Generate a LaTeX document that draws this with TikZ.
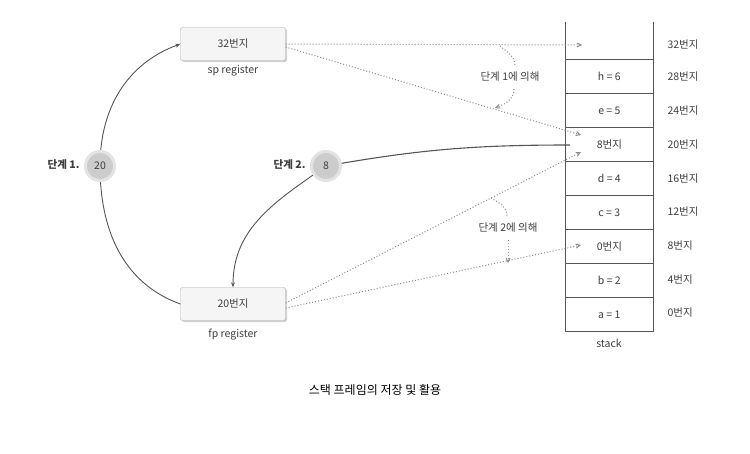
\documentclass[tikz,border=0pt]{standalone}
\usepackage{fontspec}
\setmainfont{Noto Sans CJK KR}
\usetikzlibrary{arrows.meta,shadows}
\definecolor{txt}{HTML}{3E3E3E}
\definecolor{ln}{HTML}{555555}
\definecolor{dotc}{HTML}{8A8A8A}
\begin{document}
\begin{tikzpicture}[x=1pt,y=-1pt,
  font=\fontsize{10.5}{12}\selectfont, text=txt,
  regbox/.style={draw=gray!70, fill=gray!8, rounded corners=2pt, minimum width=105pt, minimum height=33pt, drop shadow={opacity=0.35,shadow xshift=1.5pt,shadow yshift=-1.5pt}},
  stepcirc/.style={circle, draw=gray!22, line width=3pt, fill=gray!40, minimum size=29pt, inner sep=0pt},
  cell/.style={draw=ln, line width=0.7pt, minimum width=88pt, minimum height=34pt, inner sep=0pt, anchor=north west},
  solidarr/.style={draw=ln, line width=0.9pt, -{Stealth[length=5pt,width=4pt]}},
  dotarr/.style={draw=dotc, line width=1pt, dotted, -{Straight Barb[length=4pt,width=4pt]}},
  addr/.style={anchor=west}]
\useasboundingbox (0,0) rectangle (750,453);
\fill[white] (0,0) rectangle (750,453);
% stack
\draw[ln, line width=0.7pt] (565,22) -- (565,59);
\draw[ln, line width=0.7pt] (653,22) -- (653,59);
\node[cell] (r28) at (565,59) {h = 6};
\node[cell] (r24) at (565,93) {e = 5};
\node[cell] (r20) at (565,127) {8번지};
\node[cell] (r16) at (565,161) {d = 4};
\node[cell] (r12) at (565,195) {c = 3};
\node[cell] (r8) at (565,229) {0번지};
\node[cell] (r4) at (565,263) {b = 2};
\node[cell] (r0) at (565,297) {a = 1};
\node (stk) at (609,343) {stack};
\coordinate (t32) at (582,45);
\node[addr] (a32) at (664,45) {32번지};
\node[addr] (a28) at (664,77) {28번지};
\node[addr] (a24) at (664,111) {24번지};
\node[addr] (a20) at (664,145) {20번지};
\node[addr] (a16) at (664,179) {16번지};
\node[addr] (a12) at (664,212) {12번지};
\node[addr] (a8) at (664,246) {8번지};
\node[addr] (a4) at (664,280) {4번지};
\node[addr] (a0) at (664,313) {0번지};
% registers
\node[regbox] (sp) at (233,44) {32번지};
\node (spl) at (233,71) {sp register};
\node[regbox] (fp) at (233,304) {20번지};
\node (fpl) at (233,335) {fp register};
% solid curves
\draw[ln, line width=0.9pt] (fp.west) to[out=160,in=-90] (100,166);
\draw[solidarr] (100,166) to[out=90,in=200] (sp.west);
\draw[ln, line width=1.1pt] (570,145) to[out=180,in=10] (326,166);
\draw[solidarr] (326,166) to[out=215,in=90] (fp.north);
% step circles
\node[stepcirc] (c1) at (100,166) {20};
\node[anchor=east] (s1) at (83,165) {\textbf{단계 1.}};
\node[stepcirc] (c2) at (326,166) {8};
\node[anchor=east] (s2) at (309,165) {\textbf{단계 2.}};
% dotted arrows
\coordinate (p20a) at (581,135);
\coordinate (p20b) at (581,152);
\coordinate (p8) at (581,245);
\draw[dotarr] (sp.east |- 0,44) -- (t32);
\draw[dotarr] ([yshift=-3pt]sp.east) -- (p20a);
\draw[dotarr] ([yshift=1pt]fp.east) -- (p20b);
\draw[dotarr] ([yshift=-4pt]fp.east) -- (p8);
% annotations
\node (n1) at (510,77) {단계 1에 의해};
\node (n2) at (508,228) {단계 2에 의해};
\draw[dotc, line width=1pt, dotted] (500,46) to[out=-40,in=90] (515,66);
\draw[dotarr] (514,89) to[out=-90,in=20] (495,108);
\draw[dotc, line width=1pt, dotted] (491,198) to[out=-30,in=90] (507,216);
\draw[dotarr] (508,240) to[out=-90,in=90] (508,263);
% caption
\node[text=black, font=\fontsize{12}{14}\selectfont] (cap) at (375,390) {스택 프레임의 저장 및 활용};
\end{tikzpicture}
\end{document}
